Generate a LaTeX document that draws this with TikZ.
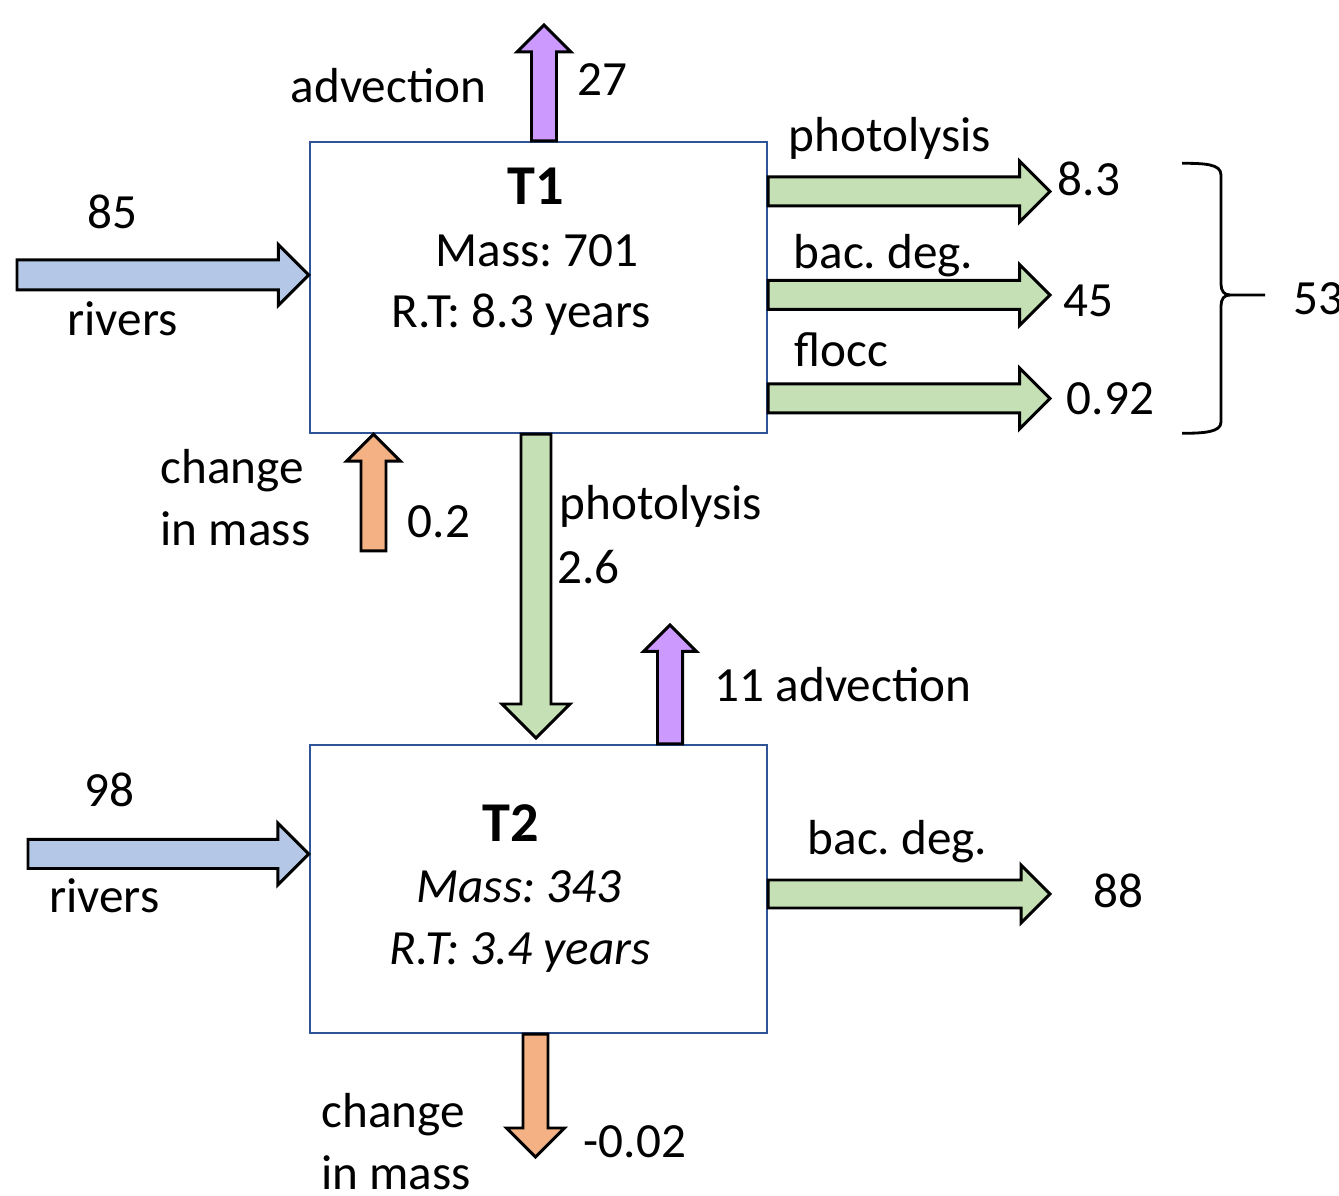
\documentclass[tikz,border=0pt]{standalone}
\usepackage{fontspec}
\setmainfont{Carlito}
\usepackage{tikz}
\usetikzlibrary{positioning, calc}
\usepackage{xcolor}
\definecolor{boxblue}{HTML}{2F5597}
\definecolor{river}{HTML}{B4C7E7}
\definecolor{sink}{HTML}{C5E0B4}
\definecolor{advect}{HTML}{CC99FF}
\definecolor{storage}{HTML}{F4B183}
\frenchspacing

% block arrow: colour, shaft half width, head half width, tail, tip
\newcommand{\blockarrow}[5]{%
  \coordinate (ba-h) at ($(#5)!#3!(#4)$);
  \draw[flow, fill=#1] ($(#4)!#2!90:(#5)$) -- ($(ba-h)!#2!90:(#5)$) -- ($(ba-h)!#3!90:(#5)$)
    -- (#5) -- ($(ba-h)!#3!-90:(#5)$) -- ($(ba-h)!#2!-90:(#5)$) -- ($(#4)!#2!-90:(#5)$) -- cycle;
}

\begin{document}
\begin{tikzpicture}[
    box/.style={draw=boxblue, line width=0.7pt, minimum width=4.57cm, inner sep=0pt},
    lbl/.style={font=\fontsize{14}{16}\selectfont, inner sep=0pt},
    title/.style={font=\fontsize{16}{18}\selectfont\bfseries, inner sep=0pt},
    flow/.style={draw=black, line width=0.85pt, line join=miter},
]
\useasboundingbox (0,0) rectangle (13.39,-11.96);

% Reservoirs
\node[box, minimum height=2.91cm] (t1) at (5.385,-2.875) {};
\node[box, minimum height=2.88cm] (t2) at (5.385,-8.89) {};

\node[title, anchor=base] (t1name) at (5.36,-2.05) {T1};
\node[lbl, anchor=base] (t1mass) at (5.37,-2.665) {Mass: 701};
\node[lbl, anchor=base] (t1rt) at (5.21,-3.28) {R.T: 8.3 years};

\node[title, anchor=base] (t2name) at (5.11,-8.42) {T2};
\node[lbl, anchor=base, font=\fontsize{14}{16}\selectfont\itshape] (t2mass) at (5.19,-9.03) {Mass: 343};
\node[lbl, anchor=base, font=\fontsize{14}{16}\selectfont\itshape] (t2rt) at (5.20,-9.65) {R.T: 3.4 years};

% Free ends of the fluxes
\coordinate (riv1) at (0.17,-2.75);
\coordinate (riv2) at (0.28,-8.54);
\coordinate (adv1) at (5.44,-0.25);
\coordinate (dm1) at (3.735,-5.51);
\coordinate (ph2) at (5.36,-7.38);
\coordinate (adv2) at (6.70,-6.25);
\coordinate (dm2) at (5.355,-11.57);
\coordinate (ph1) at (10.50,-1.915);
\coordinate (bd1) at (10.50,-2.95);
\coordinate (fl1) at (10.50,-3.985);
\coordinate (bd2) at (10.50,-8.94);

% Fluxes of T1
\blockarrow{river}{0.15cm}{0.305cm}{riv1}{t1.west |- riv1}
\blockarrow{advect}{0.125cm}{0.27cm}{t1.north -| adv1}{adv1}
\blockarrow{storage}{0.125cm}{0.27cm}{dm1}{t1.south -| dm1}
\blockarrow{sink}{0.145cm}{0.305cm}{t1.east |- ph1}{ph1}
\blockarrow{sink}{0.145cm}{0.305cm}{t1.east |- bd1}{bd1}
\blockarrow{sink}{0.145cm}{0.305cm}{t1.east |- fl1}{fl1}
\blockarrow{sink}{0.15cm}{0.34cm}{t1.south -| ph2}{ph2}

% Fluxes of T2
\blockarrow{river}{0.145cm}{0.31cm}{riv2}{t2.west |- riv2}
\blockarrow{advect}{0.125cm}{0.265cm}{t2.north -| adv2}{adv2}
\blockarrow{sink}{0.14cm}{0.29cm}{t2.east |- bd2}{bd2}
\blockarrow{storage}{0.125cm}{0.29cm}{t2.south -| dm2}{dm2}

% Sum of the T1 sinks
\draw[line width=0.8pt] (11.82,-1.633) .. controls (12.05,-1.633) and (12.21,-1.64) .. (12.21,-1.75)
  -- (12.21,-2.84) .. controls (12.21,-2.91) and (12.24,-2.95) .. (12.30,-2.95) -- (12.65,-2.95);
\draw[line width=0.8pt] (12.30,-2.95) .. controls (12.24,-2.95) and (12.21,-2.99) .. (12.21,-3.06)
  -- (12.21,-4.22) .. controls (12.21,-4.32) and (12.05,-4.333) .. (11.82,-4.333);

% Labels
\node[lbl, anchor=base west] (advl1) at (2.90,-1.03) {advection};
\node[lbl, anchor=base west] (advv1) at (5.77,-0.96) {27};
\node[lbl, anchor=base] (rivv1) at (1.125,-2.283) {85};
\node[lbl, anchor=base west] (rivl1) at (0.667,-3.36) {rivers};
\node[lbl, anchor=base west] (phl1) at (7.88,-1.52) {photolysis};
\node[lbl, anchor=base west] (phv1) at (10.57,-1.96) {8.3};
\node[lbl, anchor=base west] (bdl1) at (7.93,-2.69) {bac. deg.};
\node[lbl, anchor=base west] (bdv1) at (10.63,-3.167) {45};
\node[lbl, anchor=base west] (fll1) at (7.94,-3.67) {flocc};
\node[lbl, anchor=base west] (flv1) at (10.66,-4.15) {0.92};
\node[lbl, anchor=base west] (sum1) at (12.93,-3.15) {53};
\node[lbl, anchor=base west] (dml1) at (1.60,-4.84) {change};
\node[lbl, anchor=base west] (dml1b) at (1.60,-5.46) {in mass};
\node[lbl, anchor=base west] (dmv1) at (4.07,-5.38) {0.2};
\node[lbl, anchor=base west] (phl2) at (5.59,-5.20) {photolysis};
\node[lbl, anchor=base west] (phv2) at (5.565,-5.84) {2.6};
\node[lbl, anchor=base west] (adv2l) at (7.14,-7.017) {11 advection};
\node[lbl, anchor=base] (rivv2) at (1.09,-8.067) {98};
\node[lbl, anchor=base west] (rivl2) at (0.485,-9.13) {rivers};
\node[lbl, anchor=base west] (bdl2) at (8.07,-8.55) {bac. deg.};
\node[lbl, anchor=base west] (bdv2) at (10.93,-9.08) {88};
\node[lbl, anchor=base west] (dml2) at (3.207,-11.28) {change};
\node[lbl, anchor=base west] (dml2b) at (3.207,-11.90) {in mass};
\node[lbl, anchor=base west] (dmv2) at (5.83,-11.58) {-0.02};

\end{tikzpicture}
\end{document}
